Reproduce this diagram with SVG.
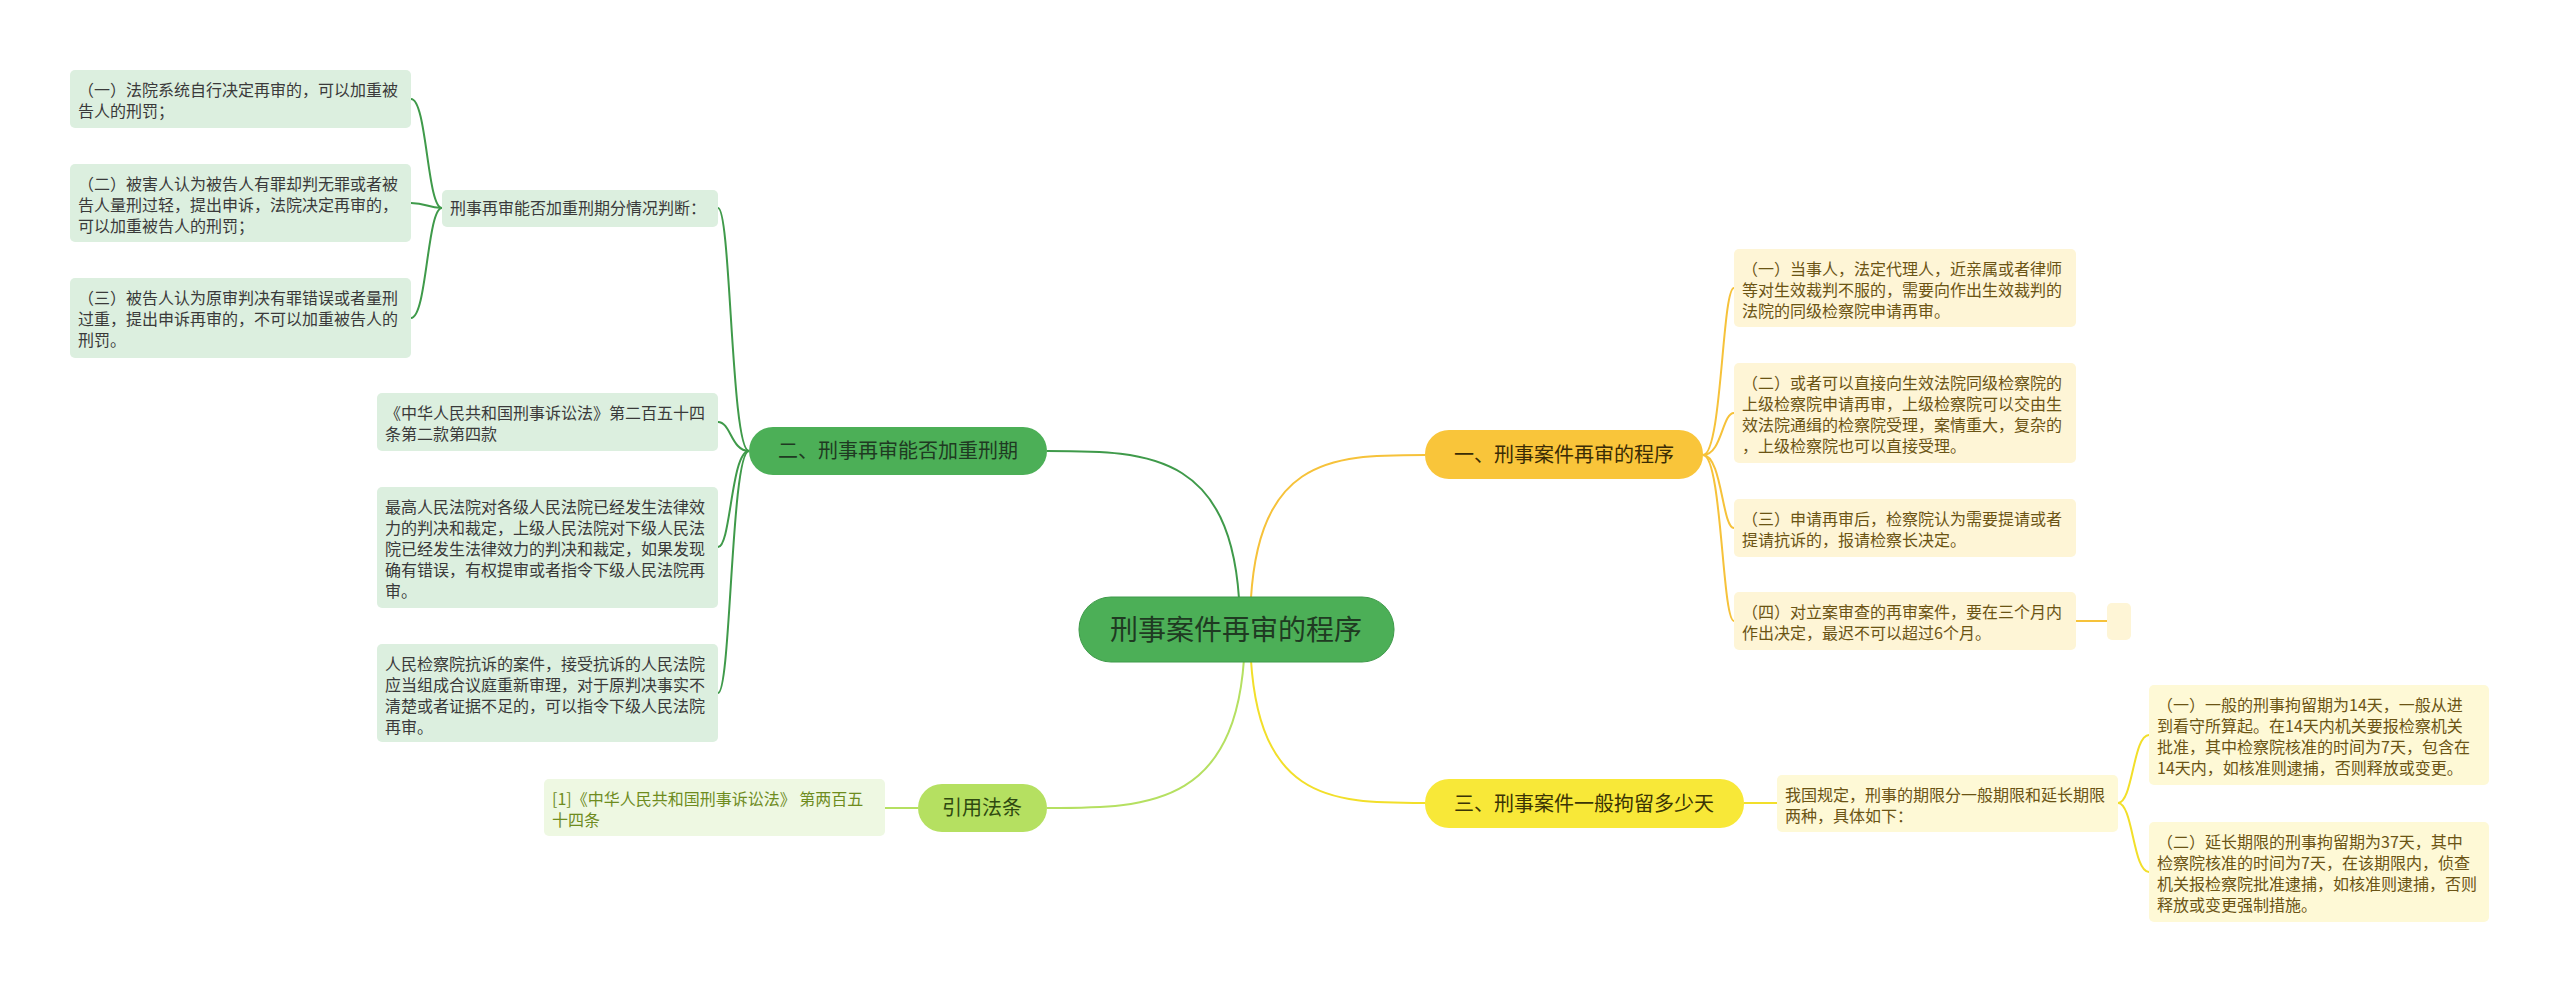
<svg xmlns="http://www.w3.org/2000/svg" width="2560" height="987" viewBox="0 0 2560 987">
<style>
text{font-family:"Noto Sans CJK SC","Noto Sans",sans-serif;}
.lg rect{fill:#dcefdf}
.lg text{font-size:16px;fill:#3a3a3a}
.ly rect{fill:#fef5d6}
.ly text{font-size:16px;fill:#6b5414}
.lr rect{fill:#eef8e2}
.lr text{font-size:16px;fill:#6e8c1e}
.br text{font-size:20px}
.c path{fill:none;stroke-width:2}
</style>
<rect width="2560" height="987" fill="#fff"/>
<g class="c">
<path d="M1240,629 C1240,451 1150,451 1047,451" stroke="#3f9a4a"/>
<path d="M1245,629 C1245,808 1150,808 1047,808" stroke="#b5e061"/>
<path d="M1250,629 C1250,455 1330,455 1425,455" stroke="#f6c23a"/>
<path d="M1250,629 C1250,803 1330,803 1425,803" stroke="#f2df2a"/>
<g stroke="#3f9a4a">
<path d="M749,451 C731,451 731,208 718,208"/>
<path d="M749,451 C731,451 731,422 718,422"/>
<path d="M749,451 C731,451 731,547 718,547"/>
<path d="M749,451 C731,451 731,693 718,693"/>
<path d="M442,208 C427,208 427,99 411,99"/>
<path d="M442,208 C427,208 427,203 411,203"/>
<path d="M442,208 C427,208 427,318 411,318"/>
</g>
<path d="M918,808 H885" stroke="#b5e061"/>
<g stroke="#f6c23a">
<path d="M1703,455 C1722,455 1722,288 1734,288"/>
<path d="M1703,455 C1722,455 1722,413 1734,413"/>
<path d="M1703,455 C1722,455 1722,528 1734,528"/>
<path d="M1703,455 C1722,455 1722,621 1734,621"/>
<path d="M2076,621 H2107"/>
</g>
<g stroke="#f2df2a">
<path d="M1744,803 H1777"/>
<path d="M2118,803 C2133,803 2133,735 2149,735"/>
<path d="M2118,803 C2133,803 2133,872 2149,872"/>
</g>
</g>
<g id="center"><rect x="1079" y="597" width="315" height="65" rx="32" fill="#4caf57" stroke="#3f9a4a"/><text x="1236" y="640" font-size="28" fill="#1f3a22" text-anchor="middle">刑事案件再审的程序</text></g>
<g id="b2" class="br"><rect x="749" y="427" width="298" height="48" rx="24" fill="#4caf57"/><text x="898" y="458" text-anchor="middle" fill="#1f3a22">二、刑事再审能否加重刑期</text></g>
<g id="b4" class="br"><rect x="918" y="784" width="129" height="48" rx="24" fill="#b5e061"/><text x="982" y="815" text-anchor="middle" fill="#2f4a10">引用法条</text></g>
<g id="b1" class="br"><rect x="1425" y="430" width="278" height="49" rx="24" fill="#f9c53a"/><text x="1564" y="462" text-anchor="middle" fill="#3a2c05">一、刑事案件再审的程序</text></g>
<g id="b3" class="br"><rect x="1425" y="779" width="319" height="49" rx="24" fill="#f8e838"/><text x="1584" y="811" text-anchor="middle" fill="#3a3405">三、刑事案件一般拘留多少天</text></g>
<g id="m1" class="lg"><rect x="442" y="190" width="276" height="37" rx="5"/><text x="450" y="214">刑事再审能否加重刑期分情况判断：</text></g>
<g id="l1" class="lg"><rect x="70" y="70" width="341" height="58" rx="5"/><text x="78" y="96">（一）法院系统自行决定再审的，可以加重被</text><text x="78" y="117">告人的刑罚；</text></g>
<g id="l2" class="lg"><rect x="70" y="164" width="341" height="78" rx="5"/><text x="78" y="190">（二）被害人认为被告人有罪却判无罪或者被</text><text x="78" y="211">告人量刑过轻，提出申诉，法院决定再审的，</text><text x="78" y="232">可以加重被告人的刑罚；</text></g>
<g id="l3" class="lg"><rect x="70" y="278" width="341" height="80" rx="5"/><text x="78" y="304">（三）被告人认为原审判决有罪错误或者量刑</text><text x="78" y="325">过重，提出申诉再审的，不可以加重被告人的</text><text x="78" y="346">刑罚。</text></g>
<g id="a" class="lg"><rect x="377" y="393" width="341" height="58" rx="5"/><text x="385" y="419">《中华人民共和国刑事诉讼法》第二百五十四</text><text x="385" y="440">条第二款第四款</text></g>
<g id="b" class="lg"><rect x="377" y="487" width="341" height="121" rx="5"/><text x="385" y="513">最高人民法院对各级人民法院已经发生法律效</text><text x="385" y="534">力的判决和裁定，上级人民法院对下级人民法</text><text x="385" y="555">院已经发生法律效力的判决和裁定，如果发现</text><text x="385" y="576">确有错误，有权提审或者指令下级人民法院再</text><text x="385" y="597">审。</text></g>
<g id="cc" class="lg"><rect x="377" y="644" width="341" height="98" rx="5"/><text x="385" y="670">人民检察院抗诉的案件，接受抗诉的人民法院</text><text x="385" y="691">应当组成合议庭重新审理，对于原判决事实不</text><text x="385" y="712">清楚或者证据不足的，可以指令下级人民法院</text><text x="385" y="733">再审。</text></g>
<g id="ref" class="lr"><rect x="544" y="779" width="341" height="57" rx="5"/><text x="552" y="805">[1]《中华人民共和国刑事诉讼法》 第两百五</text><text x="552" y="826">十四条</text></g>
<g id="r1" class="ly"><rect x="1734" y="249" width="342" height="78" rx="5"/><text x="1742" y="275">（一）当事人，法定代理人，近亲属或者律师</text><text x="1742" y="296">等对生效裁判不服的，需要向作出生效裁判的</text><text x="1742" y="317">法院的同级检察院申请再审。</text></g>
<g id="r2" class="ly"><rect x="1734" y="363" width="342" height="100" rx="5"/><text x="1742" y="389">（二）或者可以直接向生效法院同级检察院的</text><text x="1742" y="410">上级检察院申请再审，上级检察院可以交由生</text><text x="1742" y="431">效法院通缉的检察院受理，案情重大，复杂的</text><text x="1742" y="452">，上级检察院也可以直接受理。</text></g>
<g id="r3" class="ly"><rect x="1734" y="499" width="342" height="58" rx="5"/><text x="1742" y="525">（三）申请再审后，检察院认为需要提请或者</text><text x="1742" y="546">提请抗诉的，报请检察长决定。</text></g>
<g id="r4" class="ly"><rect x="1734" y="592" width="342" height="58" rx="5"/><text x="1742" y="618">（四）对立案审查的再审案件，要在三个月内</text><text x="1742" y="639">作出决定，最迟不可以超过6个月。</text></g>
<g id="r5" class="ly"><rect x="2107" y="603" width="24" height="37" rx="5"/></g>
<g id="m3" class="ly"><rect x="1777" y="775" width="341" height="57" rx="5" style="fill:#fef9d6"/><text x="1785" y="801">我国规定，刑事的期限分一般期限和延长期限</text><text x="1785" y="822">两种，具体如下：</text></g>
<g id="s1" class="ly"><rect x="2149" y="685" width="340" height="100" rx="5" style="fill:#fef9d6"/><text x="2157" y="711">（一）一般的刑事拘留期为14天，一般从进</text><text x="2157" y="732">到看守所算起。在14天内机关要报检察机关</text><text x="2157" y="753">批准，其中检察院核准的时间为7天，包含在</text><text x="2157" y="774">14天内，如核准则逮捕，否则释放或变更。</text></g>
<g id="s2" class="ly"><rect x="2149" y="822" width="340" height="100" rx="5" style="fill:#fef9d6"/><text x="2157" y="848">（二）延长期限的刑事拘留期为37天，其中</text><text x="2157" y="869">检察院核准的时间为7天，在该期限内，侦查</text><text x="2157" y="890">机关报检察院批准逮捕，如核准则逮捕，否则</text><text x="2157" y="911">释放或变更强制措施。</text></g>
</svg>
